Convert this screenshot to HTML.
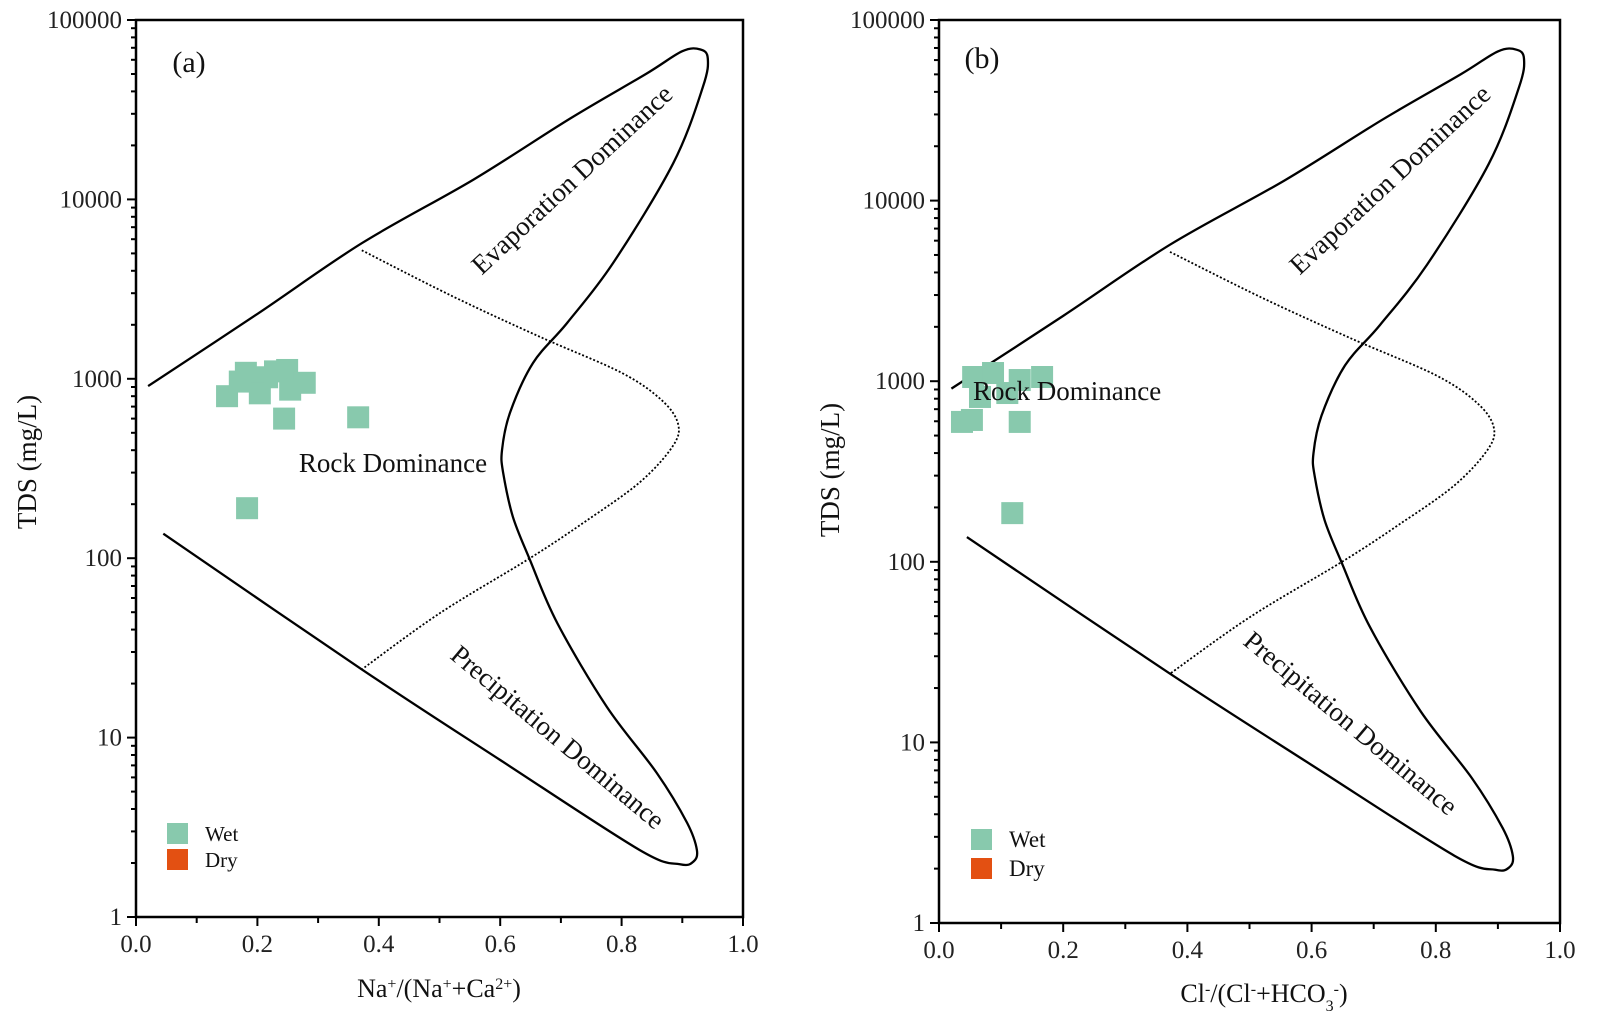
<!DOCTYPE html>
<html><head><meta charset="utf-8">
<style>
html,body{margin:0;padding:0;background:#fff;}
svg{display:block;font-family:"Liberation Serif","Times New Roman",serif;}
</style></head>
<body>
<svg id="chart" width="1598" height="1018" viewBox="0 0 1598 1018" xmlns="http://www.w3.org/2000/svg"></svg>
<script>
// ---- data (shared Gibbs boundary, data coords: [ratio, TDS]) ----
const outerBoundaryX = [0.02,0.20,0.372,0.556,0.715,0.840,0.900,0.930,0.942,0.934,0.885,0.786,0.710,0.654,0.616,0.603,0.605,0.621,0.649,0.694,0.776,0.858,0.908,0.924,0.918,0.896,0.830,0.600,0.372,0.045];
const outerBoundaryTDS = [910,2300,5700,12900,28200,50000,67000,68500,61000,42400,15900,4420,2045,1225,645,400,298,170,98,43.5,14.8,6.35,3.34,2.36,2.03,1.97,2.36,7.5,24,137];
const innerBoundaryX = [0.372,0.520,0.666,0.800,0.866,0.893,0.884,0.830,0.740,0.649,0.501,0.372];
const innerBoundaryTDS = [5200,2900,1710,1080,760,560,420,265,160,100,49.5,24];
const yTickValues = [1,10,100,1000,10000,100000];
const yTickLabels = ["1","10","100","1000","10000","100000"];
const xTickValues = [0,0.2,0.4,0.6,0.8,1.0];
const xTickLabels = ["0.0","0.2","0.4","0.6","0.8","1.0"];
// panel (a) wet samples
const wetA_X = [0.150,0.181,0.216,0.249,0.278,0.204,0.254,0.244,0.366,0.183,0.171,0.229];
const wetA_TDS = [800,1080,1020,1120,950,830,870,600,610,190,965,1100];
// panel (b) wet samples
const wetB_X = [0.053,0.037,0.055,0.087,0.130,0.166,0.066,0.110,0.130,0.118];
const wetB_TDS = [610,595,1055,1110,1015,1055,818,860,595,186];

const NS = "http://www.w3.org/2000/svg";
const svg = document.getElementById('chart');
function mk(tag, attrs, parent){
  const e = document.createElementNS(NS, tag);
  for (const k in attrs) e.setAttribute(k, attrs[k]);
  (parent||svg).appendChild(e);
  return e;
}
function smoothPath(pts){
  let d = "M"+pts[0][0].toFixed(1)+","+pts[0][1].toFixed(1);
  for (let i=0;i<pts.length-1;i++){
    const p0=pts[Math.max(0,i-1)], p1=pts[i], p2=pts[i+1], p3=pts[Math.min(pts.length-1,i+2)];
    const c1=[p1[0]+(p2[0]-p0[0])/6, p1[1]+(p2[1]-p0[1])/6];
    const c2=[p2[0]-(p3[0]-p1[0])/6, p2[1]-(p3[1]-p1[1])/6];
    d += " C"+c1[0].toFixed(1)+","+c1[1].toFixed(1)+" "+c2[0].toFixed(1)+","+c2[1].toFixed(1)+" "+p2[0].toFixed(1)+","+p2[1].toFixed(1);
  }
  return d;
}

function drawPanel(cfg){
  const g = mk('g', {});
  
  
  const sx = v => cfg.x0 + v*(cfg.x1-cfg.x0);
  const sy = v => cfg.yb - Math.log10(v)*(cfg.yb-cfg.yt)/5;

  const frame = mk('rect', {x:cfg.x0, y:cfg.yt, width:cfg.x1-cfg.x0, height:cfg.yb-cfg.yt, fill:'none', stroke:'#000', 'stroke-width':2.5}, g);
  
  

  const yax = mk('g', {}, g);
  
  
  for (let dec=0; dec<5; dec++){
    for (let m=2; m<10; m++){
      const y = sy(m*Math.pow(10,dec));
      mk('line', {x1:cfg.x0-5, x2:cfg.x0, y1:y, y2:y, stroke:'#000','stroke-width':2}, yax);
    }
  }
  yTickValues.forEach((v,i)=>{
    const y = sy(v);
    mk('line', {x1:cfg.x0-9, x2:cfg.x0, y1:y, y2:y, stroke:'#000','stroke-width':2}, yax);
    const t = mk('text', {x:cfg.x0-14, y:y+8, 'text-anchor':'end', 'font-size':25, fill:'#222'}, yax);
    t.textContent = yTickLabels[i];
    
    
  });
  const xax = mk('g', {}, g);
  
  
  for (let k=1;k<10;k+=2){
    const x = sx(k/10);
    mk('line', {x1:x, x2:x, y1:cfg.yb, y2:cfg.yb+6, stroke:'#000','stroke-width':2}, xax);
  }
  xTickValues.forEach((v,i)=>{
    const x = sx(v);
    mk('line', {x1:x, x2:x, y1:cfg.yb, y2:cfg.yb+9, stroke:'#000','stroke-width':2}, xax);
    const t = mk('text', {x:x, y:cfg.yb+35, 'text-anchor':'middle', 'font-size':25, fill:'#222'}, xax);
    t.textContent = xTickLabels[i];
    
    
  });

  const outer = outerBoundaryX.map((x,i)=>[sx(x), sy(outerBoundaryTDS[i])]);
  const op = mk('path', {d:smoothPath(outer), fill:'none', stroke:'#000','stroke-width':2.3}, g);
  
  
  const inner = innerBoundaryX.map((x,i)=>[sx(x), sy(innerBoundaryTDS[i])]);
  const ip = mk('path', {d:smoothPath(inner), fill:'none', stroke:'#000','stroke-width':1.8,'stroke-dasharray':'2,2'}, g);
  
  

  const pts = mk('g', {}, g);
  
  
  cfg.px.forEach((x,i)=>{
    const r = mk('rect', {x:sx(x)-11, y:sy(cfg.py[i])-11, width:22, height:22, fill:'#88c9ad'}, pts);
    
    
  });

  function txt(name, s, x, y, size, rot, anchor){
    const t = mk('text', {x:x, y:y, 'font-size':size, 'text-anchor':anchor||'middle', fill:'#111'}, g);
    if (rot) t.setAttribute('transform', 'rotate('+rot+' '+x+' '+y+')');
    t.textContent = s;
    
    
    return t;
  }
  txt('panel-label', cfg.label, cfg.labelX, cfg.labelY, 30);
  txt('evaporation-dominance-label', 'Evaporation Dominance', cfg.evX, cfg.evY, 27, -43);
  txt('precipitation-dominance-label', 'Precipitation Dominance', cfg.prX, cfg.prY, 27, 40);
  txt('rock-dominance-label', 'Rock Dominance', cfg.rkX, cfg.rkY, 27, 0, cfg.rkAnchor);
  txt('y-axis-title', 'TDS (mg/L)', cfg.ytX, cfg.ytY, 27, -90);
  const xt = txt('x-axis-title', '', cfg.xtX, cfg.xtY, 26);
  xt.innerHTML = cfg.xTitle;

  const lg = mk('g', {}, g);
  
  
  const w = mk('rect', {x:cfg.lgX, y:cfg.lgY, width:21, height:21, fill:'#88c9ad'}, lg);
   
  const d = mk('rect', {x:cfg.lgX, y:cfg.lgY+cfg.lgGap, width:21, height:21, fill:'#e35012'}, lg);
   
  const t1 = mk('text', {x:cfg.lgX+38, y:cfg.lgY+18, 'font-size':cfg.lgFs, fill:'#111'}, lg);
  t1.textContent = 'Wet';
   
  const t2 = mk('text', {x:cfg.lgX+38, y:cfg.lgY+cfg.lgGap+18, 'font-size':cfg.lgFs, fill:'#111'}, lg);
  t2.textContent = 'Dry';
   
}

drawPanel({id:'a', x0:136, x1:743, yt:20, yb:917, px:wetA_X, py:wetA_TDS,
  label:'(a)', labelX:189, labelY:72, evX:578, evY:186, prX:552, prY:744,
  rkX:393, rkY:472, rkAnchor:'middle', ytX:36, ytY:462,
  xTitle:'Na<tspan baseline-shift="super" font-size="16">+</tspan>/(Na<tspan baseline-shift="super" font-size="16">+</tspan>+Ca<tspan baseline-shift="super" font-size="16">2+</tspan>)',
  xtX:439, xtY:997, lgX:167, lgY:823, lgGap:26, lgFs:21});
drawPanel({id:'b', x0:939, x1:1560, yt:20, yb:923, px:wetB_X, py:wetB_TDS,
  label:'(b)', labelX:982, labelY:68, evX:1396, evY:186, prX:1345, prY:730,
  rkX:973, rkY:400, rkAnchor:'start', ytX:839, ytY:470,
  xTitle:'Cl<tspan baseline-shift="super" font-size="16">-</tspan>/(Cl<tspan baseline-shift="super" font-size="16">-</tspan>+HCO<tspan baseline-shift="sub" font-size="16">3</tspan><tspan baseline-shift="super" font-size="16">-</tspan>)',
  xtX:1264, xtY:1002, lgX:971, lgY:829, lgGap:29, lgFs:23});
</script>
</body></html>
